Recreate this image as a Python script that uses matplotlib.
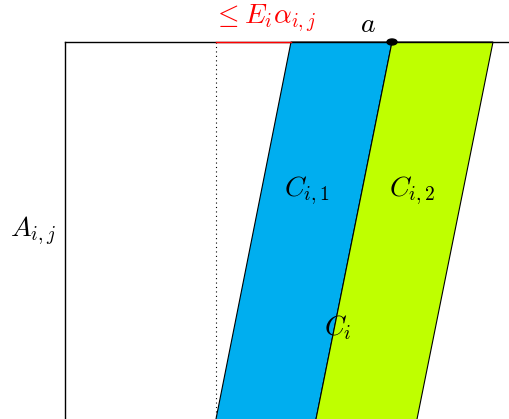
import matplotlib.pyplot as plt
from matplotlib.patches import Polygon, Ellipse

plt.rcParams['mathtext.fontset'] = 'cm'

# 图形坐标（像素，y向下）
top_y, bottom_y = 42, 419
left_x, right_x = 65, 509
dotted_x = 216

# 平行四边形：上边x范围, 下边x范围
blue_top = [291, 392]
blue_bottom = [216, 316]
green_top = [392, 493]
green_bottom = [316, 417]

labels = {
    r'$C_{i,1}$': (307, 191),
    r'$C_{i,2}$': (412, 191),
    r'$C_i$': (338, 328),
    r'$A_{i,j}$': (33, 231),
    r'$a$': (368, 24),
}

fig = plt.figure(figsize=(5.09, 4.19), dpi=100)
ax = fig.add_axes([0, 0, 1, 1])
ax.set_xlim(0, 509)
ax.set_ylim(419, 0)
ax.axis('off')

# 下边延伸到画面外，底边不可见
ext = 10
slope = (blue_top[0] - blue_bottom[0]) / (bottom_y - top_y)
def poly(t, b, color):
    bx = [v - slope * ext for v in b]
    return Polygon([(t[0], top_y), (t[1], top_y),
                    (bx[1], bottom_y + ext), (bx[0], bottom_y + ext)],
                   closed=True, facecolor=color, edgecolor='black', lw=0.8)

ax.add_patch(poly(blue_top, blue_bottom, '#00aeef'))
ax.add_patch(poly(green_top, green_bottom, '#bfff00'))

# 边框
ax.plot([left_x, right_x], [top_y, top_y], color='black', lw=1)
ax.plot([left_x, left_x], [top_y, bottom_y + ext], color='black', lw=1)
ax.plot([dotted_x, dotted_x], [top_y, bottom_y + ext], color='black', lw=0.8, linestyle=(0, (1, 3)))
ax.plot([dotted_x, blue_top[0]], [top_y, top_y], color='red', lw=1)

ax.add_patch(Ellipse((blue_top[1], top_y), 10, 6, color='black'))

for txt, (x, y) in labels.items():
    ax.text(x, y, txt, ha='center', va='center', fontsize=20)
ax.text(265, 18, r'$\leq E_i\alpha_{i,j}$', ha='center', va='center', fontsize=20, color='red')

fig.savefig('out.png', dpi=100)
